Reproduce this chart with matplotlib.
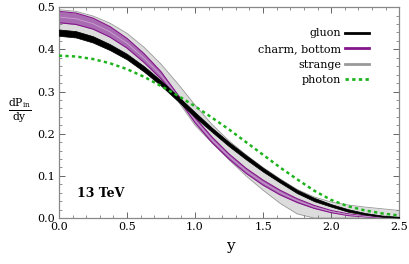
import numpy as np
import matplotlib
matplotlib.use("Agg")
import matplotlib.pyplot as plt
from matplotlib.ticker import MultipleLocator
from matplotlib.lines import Line2D

plt.rcParams["font.family"] = "DejaVu Serif"
plt.rcParams["mathtext.fontset"] = "dejavuserif"

# rapidity grid
y = [0.0, 0.125, 0.25, 0.375, 0.5, 0.625, 0.75, 0.875, 1.0, 1.125, 1.25,
     1.375, 1.5, 1.625, 1.75, 1.875, 2.0, 2.125, 2.25, 2.375, 2.5]

gluon_hi = [0.447, 0.443, 0.431, 0.412, 0.389, 0.360, 0.326, 0.289, 0.251, 0.214, 0.180,
            0.149, 0.119, 0.092, 0.067, 0.048, 0.033, 0.021, 0.012, 0.006, 0.003]
gluon_lo = [0.432, 0.428, 0.416, 0.398, 0.376, 0.347, 0.314, 0.277, 0.239, 0.204, 0.170,
            0.139, 0.110, 0.084, 0.059, 0.040, 0.027, 0.015, 0.008, 0.003, 0.001]

charm_hi = [0.490, 0.486, 0.474, 0.454, 0.426, 0.390, 0.347, 0.292, 0.238, 0.192, 0.152,
            0.118, 0.090, 0.066, 0.046, 0.030, 0.018, 0.010, 0.005, 0.002, 0.001]
charm_lo = [0.463, 0.459, 0.448, 0.429, 0.403, 0.369, 0.330, 0.283, 0.226, 0.179, 0.140,
            0.106, 0.078, 0.055, 0.037, 0.023, 0.013, 0.006, 0.003, 0.001, 0.000]

strange_hi = [0.494, 0.490, 0.479, 0.462, 0.438, 0.405, 0.365, 0.318, 0.268, 0.222, 0.183,
              0.150, 0.120, 0.093, 0.068, 0.050, 0.038, 0.031, 0.026, 0.022, 0.018]
strange_lo = [0.446, 0.442, 0.430, 0.412, 0.389, 0.358, 0.322, 0.277, 0.220, 0.178, 0.138,
              0.100, 0.066, 0.035, 0.010, 0.000, 0.000, 0.000, 0.000, 0.000, 0.000]

photon = [0.385, 0.383, 0.377, 0.367, 0.353, 0.335, 0.313, 0.290, 0.265, 0.238, 0.210,
          0.180, 0.150, 0.120, 0.092, 0.065, 0.043, 0.028, 0.018, 0.011, 0.006]

fig = plt.figure(figsize=(4.09, 2.64), dpi=100)
ax = fig.add_axes([0.144, 0.174, 0.832, 0.799])

# strange band
ax.fill_between(y, strange_lo, strange_hi, color="#dcdcdc", lw=0, zorder=1)
ax.plot(y, strange_hi, color="#999999", lw=0.6, zorder=1.5)
ax.plot(y, strange_lo, color="#999999", lw=0.6, zorder=1.5)

# charm, bottom band
ax.fill_between(y, charm_lo, charm_hi, color="#a96cb3", lw=0, zorder=2)
ax.plot(y, charm_hi, color="#85168a", lw=0.8, zorder=2.5)
ax.plot(y, charm_lo, color="#85168a", lw=0.8, zorder=2.5)
charm_mid = (np.array(charm_hi) + np.array(charm_lo)) / 2
ax.plot(y, charm_mid, color="#c9a3cf", lw=0.6, zorder=2.5)

# gluon band
ax.fill_between(y, gluon_lo, gluon_hi, color="black", lw=0.5, edgecolor="black", zorder=3)

# photon
ax.plot(y, photon, color="#1fb41f", lw=1.8, ls=(0, (1.3, 1.3)), zorder=4)

ax.set_xlim(0, 2.5)
ax.set_ylim(0, 0.5)
ax.xaxis.set_major_locator(MultipleLocator(0.5))
ax.xaxis.set_minor_locator(MultipleLocator(0.1))
ax.yaxis.set_major_locator(MultipleLocator(0.1))
ax.yaxis.set_minor_locator(MultipleLocator(0.02))
ax.xaxis.set_major_formatter(matplotlib.ticker.FormatStrFormatter("%.1f"))
ax.yaxis.set_major_formatter(matplotlib.ticker.FormatStrFormatter("%.1f"))
ax.tick_params(which="both", direction="in", top=True, right=True, color="#666666",
               labelsize=8, pad=3)
ax.tick_params(which="major", length=4, width=0.7)
ax.tick_params(which="minor", length=2, width=0.5)
for s in ax.spines.values():
    s.set_color("#888888")
    s.set_linewidth(0.9)

ax.text(0.053, 0.1, "13 TeV", transform=ax.transAxes, fontsize=9, fontweight="bold")

fig.text(230 / 409, 1 - 246 / 264, "y", fontsize=11, ha="center", va="center")
fig.text(20 / 409, 1 - 111 / 264, r"$\frac{\mathrm{dP}_{\mathrm{in}}}{\mathrm{dy}}$",
         fontsize=11, ha="center", va="center")

handles = [
    Line2D([], [], color="black", lw=2),
    Line2D([], [], color="#85168a", lw=2),
    Line2D([], [], color="#999999", lw=2),
    Line2D([], [], color="#1fb41f", lw=2, ls=(0, (1.2, 1.2))),
]
labels = ["gluon", "charm, bottom", "strange", "photon"]
ax.legend(handles, labels, loc="upper right", bbox_to_anchor=(0.925, 0.92), frameon=False,
          markerfirst=False, fontsize=8, handlelength=2.2, handletextpad=0.3,
          labelspacing=0.5, borderaxespad=0)

fig.savefig("out.png", dpi=100)
